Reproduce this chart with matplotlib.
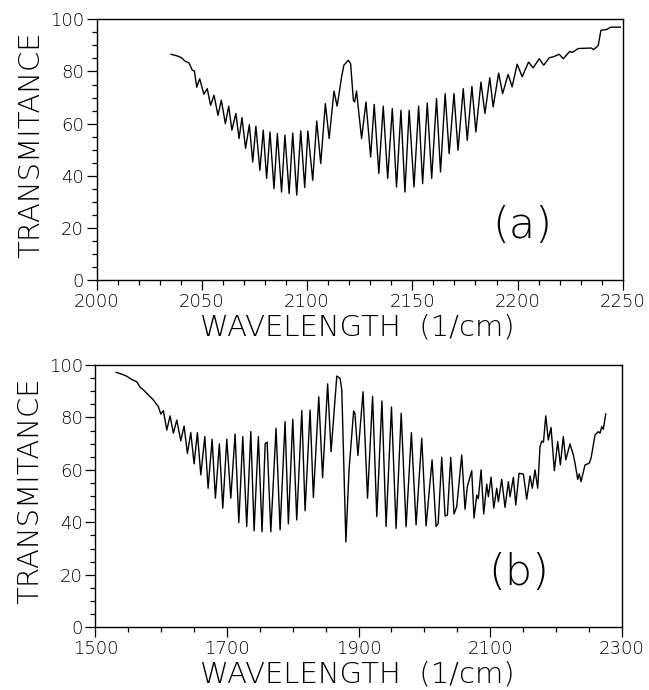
import matplotlib
matplotlib.use("Agg")
import matplotlib.pyplot as plt
from matplotlib.ticker import MultipleLocator

# spectrum (a): wavenumber / transmittance
a_x = [2035.4, 2037.3, 2038.9, 2040.5, 2042.0, 2043.9, 2045.5, 2046.5, 2047.6, 2049.0,
       2051.0, 2052.6, 2054.2, 2055.8, 2057.7, 2059.3, 2061.2, 2062.8, 2064.3, 2066.2,
       2067.7, 2069.1, 2070.8, 2072.6, 2074.2, 2075.7, 2077.6, 2079.2, 2080.8, 2082.4,
       2084.3, 2085.9, 2087.9, 2089.5, 2091.5, 2093.2, 2095.1, 2097.0, 2098.9, 2100.4,
       2102.7, 2104.6, 2106.5, 2108.7, 2110.5, 2112.8, 2114.3, 2116.4, 2117.5, 2119.6,
       2120.7, 2122.0, 2122.6, 2123.5, 2125.9, 2128.0, 2130.2, 2131.9, 2134.1, 2136.2,
       2138.3, 2140.5, 2142.5, 2144.6, 2146.5, 2148.5, 2150.8, 2153.0, 2154.9, 2157.1,
       2159.2, 2161.5, 2163.4, 2165.6, 2167.5, 2169.8, 2171.7, 2174.2, 2176.1, 2178.3,
       2180.2, 2182.6, 2184.5, 2186.8, 2188.4, 2191.0, 2192.9, 2195.5, 2197.4, 2199.8,
       2202.2, 2205.2, 2207.4, 2210.3, 2212.4, 2215.1, 2216.9, 2219.8, 2221.7, 2224.8,
       2226.0, 2228.8, 2235.0, 2236.1, 2238.3, 2239.6, 2242.3, 2244.3, 2248.8]
a_y = [86.6, 86.2, 85.8, 85.2, 84.0, 83.3, 80.5, 80.2, 74.0, 77.2,
       71.3, 73.4, 67.0, 70.9, 63.2, 69.0, 60.0, 66.7, 57.5, 63.9,
       54.3, 62.3, 50.5, 59.6, 45.3, 59.0, 42.1, 57.5, 39.0, 56.8,
       35.1, 56.2, 33.8, 55.6, 33.2, 56.4, 32.6, 57.2, 35.5, 57.2,
       38.3, 61.0, 44.7, 67.7, 54.3, 72.5, 66.7, 77.9, 82.4, 84.3,
       83.0, 69.0, 68.3, 72.5, 54.3, 68.3, 47.2, 67.4, 40.9, 66.7,
       39.0, 65.8, 35.7, 65.1, 33.8, 65.1, 35.7, 66.7, 37.0, 67.9,
       39.0, 69.6, 41.5, 71.5, 48.5, 71.5, 49.8, 73.4, 53.6, 74.3,
       56.8, 75.9, 63.9, 77.6, 66.4, 79.4, 71.5, 78.9, 74.1, 82.8,
       78.0, 83.6, 81.4, 84.9, 82.4, 85.3, 85.6, 86.6, 84.9, 87.7,
       87.3, 88.8, 89.0, 88.4, 89.9, 95.8, 96.1, 97.0, 97.0]

# spectrum (b)
b_x = [1531.5, 1540, 1547, 1555, 1563, 1568, 1573, 1580.5, 1588, 1595.7,
       1599.4, 1603.3, 1608.5, 1613.5, 1618.5, 1623.7, 1629.8, 1634.8, 1639.8, 1645,
       1650, 1655, 1660.2, 1666.3, 1671.3, 1677.4, 1682.4, 1688.4, 1693.6, 1699.7,
       1705.8, 1712.3, 1718, 1724, 1730, 1736.2, 1741.2, 1747.7, 1753.3, 1758,
       1761, 1766.6, 1774.6, 1780.7, 1788.3, 1793.3, 1800, 1806, 1813.7, 1818.7,
       1826.3, 1831.3, 1839.5, 1845.3, 1853, 1858.2, 1866.9, 1871.9, 1874.5, 1880.7,
       1885.5, 1892.5, 1894.5, 1899, 1906.8, 1913.6, 1921.3, 1927.7, 1935.5, 1941.8,
       1950, 1957, 1964.8, 1972.2, 1980.3, 1987.4, 1996, 2002.6, 2011.7, 2017.8,
       2021, 2026.4, 2031.5, 2035, 2040.1, 2045.1, 2049.2, 2056.8, 2061.8, 2065.3,
       2072, 2075.5, 2079.6, 2082, 2086.2, 2090.2, 2094.8, 2097.3, 2101.4, 2105.5,
       2110, 2112.5, 2117.6, 2122.6, 2127.7, 2130.2, 2135.3, 2138.9, 2143.9, 2150.5,
       2155.6, 2160.6, 2164.1, 2168.2, 2172.3, 2175.8, 2178.4, 2181, 2184.5, 2188.4,
       2192.5, 2197.6, 2202.7, 2206.7, 2211.2, 2214.9, 2221.4, 2226.4, 2229, 2233.1,
       2235.5, 2238.1, 2244.2, 2250.3, 2253.3, 2259.4, 2264.4, 2267, 2269.6, 2272,
       2275.7]
b_y = [97.2, 96.5, 95.8, 94.5, 93.6, 91.5, 90.5, 88.6, 86.7, 84.1,
       81.3, 82.6, 75.2, 80.6, 74.0, 79.0, 71.1, 76.7, 66.3, 74.2,
       62.3, 74.2, 58.1, 72.7, 53.0, 71.7, 49.2, 69.9, 45.4, 71.7,
       49.2, 73.7, 39.9, 72.7, 38.4, 74.6, 36.8, 72.7, 36.4, 70.0,
       70.6, 36.4, 75.9, 37.1, 78.4, 39.4, 79.3, 40.9, 82.6, 44.4,
       82.8, 49.5, 87.9, 57.0, 92.8, 66.9, 95.8, 94.9, 90.5, 32.5,
       60.0, 82.5, 81.5, 65.5, 89.8, 49.2, 88.0, 42.2, 86.3, 38.4,
       84.0, 37.7, 81.6, 38.3, 74.2, 39.0, 72.1, 38.6, 63.8, 38.4,
       39.5, 64.8, 42.4, 42.8, 64.8, 43.2, 46.0, 65.7, 45.0, 53.6,
       59.7, 41.6, 50.4, 49.0, 60.0, 43.2, 54.6, 49.8, 57.2, 45.4,
       53.0, 47.9, 56.4, 45.7, 55.5, 49.8, 57.2, 46.6, 58.7, 58.4,
       48.8, 57.7, 53.0, 60.0, 53.0, 68.9, 71.0, 70.5, 80.6, 71.4,
       76.2, 59.7, 70.8, 61.9, 72.7, 63.8, 69.9, 65.7, 62.5, 56.4,
       58.5, 55.5, 61.9, 62.5, 64.4, 73.3, 74.6, 74.0, 76.5, 75.5,
       81.3]

a_ticks = [2000, 2050, 2100, 2150, 2200, 2250]
b_ticks = [1500, 1700, 1900, 2100, 2300]

plt.rcParams['font.family'] = ['DejaVu Sans']

fig = plt.figure(figsize=(6.49, 6.90), dpi=100)
ax_a = fig.add_axes([0.1487, 0.594, 0.811, 0.378])
ax_b = fig.add_axes([0.147, 0.091, 0.811, 0.380])

thin = dict(fontsize=21, fontweight=200)


def style(ax, xlim, ticks, xminor, tag, tag_x, label_x):
    ax.set_xlim(*xlim)
    ax.set_ylim(0, 100)
    ax.set_xticks(ticks)
    ax.xaxis.set_minor_locator(MultipleLocator(xminor))
    ax.yaxis.set_major_locator(MultipleLocator(20))
    ax.yaxis.set_minor_locator(MultipleLocator(5))
    ax.tick_params(which='major', direction='out', length=7, width=0.9, labelsize=13, pad=2)
    ax.tick_params(which='minor', direction='out', length=3.5, width=0.9)
    for lbl in ax.get_xticklabels() + ax.get_yticklabels():
        lbl.set_fontweight(200)
    ax.set_ylabel('TRANSMITANCE', labelpad=3, y=0.52, **thin)
    ax.set_xlabel('WAVELENGTH  (1/cm)', x=label_x, ha='left', labelpad=2, **thin)
    for s in ax.spines.values():
        s.set_linewidth(1.0)
    ax.text(tag_x, 21, tag, fontsize=31, fontweight=200, ha='center', va='center')


ax_a.plot(a_x, a_y, color='black', linewidth=1.0)
style(ax_a, (2000, 2250), a_ticks, 10, '(a)', 2202, 0.197)

ax_b.plot(b_x, b_y, color='black', linewidth=1.0)
style(ax_b, (1500, 2300), b_ticks, 50, '(b)', 2144, 0.199)

fig.savefig('out.png', dpi=100)
